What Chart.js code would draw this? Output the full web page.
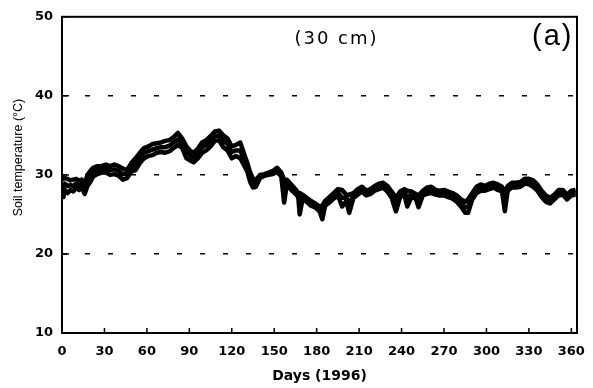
<!DOCTYPE html>
<html>
<head>
<meta charset="utf-8">
<script src="https://cdn.jsdelivr.net/npm/chart.js@4.4.0/dist/chart.umd.min.js"></script>
<style>
  html, body { margin: 0; padding: 0; background: #fff; }
  #wrap { width: 593px; height: 388px; }
</style>
</head>
<body>
<div id="wrap"><canvas id="chart" width="593" height="388"></canvas></div>
<script>
// day of year (1996) for each reading
const days = [0,1,2,4,6,8,10,12,14,16,18,20,22,25,28,31,34,37,40,43,46,49,52,55,58,61,64,67,70,73,76,79,82,85,88,91,93,96,99,102,105,108,111,114,117,120,123,126,129,131,133,135,137,140,143,146,149,152,155,157,159,162,165,167,168,170,173,176,179,182,184,186,189,192,195,198,201,203,206,209,212,215,218,221,224,227,230,233,236,239,242,244,247,250,252,255,258,261,264,267,270,273,276,279,282,285,287,290,293,296,299,302,305,308,311,313,315,318,321,324,327,330,333,336,339,342,345,348,351,354,357,360,363];

// soil temperature at 30 cm, three sensors (deg C)
const upper = [29.9,29.5,29.6,29.5,29.3,29.4,29.5,29.3,29.4,28.8,30.0,30.5,30.9,31.1,31.1,31.3,31.1,31.3,31.1,30.8,30.6,31.5,32.1,32.8,33.4,33.6,33.9,34.0,34.1,34.3,34.4,34.8,35.3,34.6,33.6,33.0,32.8,33.3,34.1,34.4,34.9,35.5,35.6,35.0,34.6,33.6,33.8,34.1,32.5,31.5,30.3,29.5,29.4,30.0,30.1,30.3,30.5,30.9,30.3,29.4,29.4,28.8,28.2,27.7,27.7,27.5,27.1,26.7,26.4,26.0,26.1,26.7,27.2,27.7,28.2,28.1,27.5,27.5,27.7,28.2,28.5,28.0,28.2,28.6,28.9,29.0,28.6,27.9,27.1,27.9,28.2,28.0,27.9,27.6,27.4,28.0,28.4,28.5,28.1,28.0,28.1,27.9,27.7,27.4,26.9,26.6,26.9,27.7,28.5,28.8,28.6,28.9,29.0,28.8,28.5,27.7,28.6,29.0,29.0,29.1,29.5,29.5,29.3,28.8,28.0,27.4,27.1,27.5,28.1,28.1,27.5,28.0,28.1];
const middle = [29.0,28.4,28.9,28.6,28.7,28.6,28.9,28.7,28.9,28.2,29.3,29.8,30.3,30.6,30.7,30.8,30.6,30.7,30.5,30.1,30.1,30.9,31.4,32.1,32.8,33.0,33.2,33.4,33.5,33.5,33.7,34.1,34.5,34.0,32.9,32.4,32.2,32.7,33.5,33.8,34.3,34.9,35.0,34.3,33.9,32.9,33.1,33.1,31.8,30.9,29.7,28.9,28.9,29.8,30.0,30.1,30.3,30.6,30.0,28.6,29.1,28.4,27.9,27.5,26.5,27.2,26.9,26.4,26.1,25.7,25.4,26.4,26.9,27.4,27.8,27.1,27.1,26.4,27.4,27.9,28.2,27.7,27.9,28.3,28.6,28.7,28.2,27.5,26.3,27.6,27.9,27.0,27.6,27.3,26.6,27.7,28.0,28.1,27.8,27.7,27.7,27.6,27.4,27.0,26.4,25.9,26.0,27.3,28.1,28.4,28.3,28.6,28.7,28.4,28.2,26.6,28.3,28.7,28.7,28.8,29.2,29.1,28.9,28.4,27.6,27.0,26.7,27.2,27.7,27.8,27.2,27.7,27.8];
const lower = [28.1,27.2,28.1,27.7,28.1,27.9,28.4,28.1,28.4,27.6,28.6,29.1,29.8,30.1,30.3,30.3,30.0,30.1,29.9,29.4,29.6,30.4,30.6,31.5,32.1,32.4,32.5,32.8,32.9,32.8,33.0,33.4,33.8,33.4,32.1,31.8,31.6,32.1,32.8,33.1,33.6,34.3,34.4,33.5,33.1,32.1,32.4,32.1,31.1,30.4,29.1,28.4,28.5,29.6,29.9,30.0,30.1,30.4,29.8,26.5,28.9,28.1,27.6,27.2,25.0,26.9,26.6,26.1,25.9,25.4,24.4,26.1,26.5,27.0,27.4,26.0,26.7,25.2,27.1,27.5,27.9,27.4,27.6,28.0,28.2,28.4,27.9,27.1,25.4,27.2,27.5,26.0,27.2,27.0,25.9,27.4,27.6,27.7,27.5,27.4,27.4,27.2,27.0,26.6,26.0,25.2,25.2,26.9,27.7,28.0,28.0,28.2,28.4,28.1,27.9,25.4,28.0,28.4,28.4,28.5,28.9,28.8,28.5,28.0,27.2,26.6,26.4,26.9,27.4,27.5,26.9,27.4,27.5];

const xTicks = [0,30,60,90,120,150,180,210,240,270,300,330,360];
const yTicks = [10,20,30,40,50];
const dashedAt = [20,30,40];

const toPoints = vals => days.map((d, i) => ({ x: d, y: vals[i] }));

// box round the plot, inward tick marks and the two labels inside the plot
const frame = {
  id: 'frame',
  afterDatasetsDraw(chart) {
    const { ctx, chartArea: a, scales: { x, y } } = chart;
    ctx.save();
    ctx.strokeStyle = '#000';
    ctx.lineWidth = 2;
    ctx.strokeRect(a.left, a.top, a.right - a.left, a.bottom - a.top);

    ctx.lineWidth = 1.5;
    ctx.beginPath();
    xTicks.forEach(v => {
      const px = x.getPixelForValue(v);
      ctx.moveTo(px, a.bottom);
      ctx.lineTo(px, a.bottom - 5);
    });
    yTicks.forEach(v => {
      const py = y.getPixelForValue(v);
      ctx.moveTo(a.left, py);
      ctx.lineTo(a.left + 7, py);
    });
    ctx.stroke();

    ctx.fillStyle = '#000';
    ctx.textBaseline = 'middle';
    ctx.textAlign = 'center';
    ctx.font = '18px "DejaVu Sans"';
    ctx.letterSpacing = '2px';
    ctx.fillText('(30 cm)', x.getPixelForValue(194), y.getPixelForValue(47.1));
    ctx.textAlign = 'right';
    ctx.font = '29px "Liberation Sans"';
    ctx.letterSpacing = '2px';
    ctx.fillText('(a)', x.getPixelForValue(361.5), y.getPixelForValue(47.4));
    ctx.restore();
  }
};

const lineStyle = { borderColor: '#000', borderWidth: 4.5, pointRadius: 0, tension: 0, borderJoinStyle: 'round', fill: false };

new Chart(document.getElementById('chart'), {
  type: 'line',
  data: {
    datasets: [
      { label: 'lower', data: toPoints(lower), ...lineStyle },
      { label: 'middle', data: toPoints(middle), ...lineStyle },
      { label: 'upper', data: toPoints(upper), ...lineStyle }
    ]
  },
  options: {
    responsive: false,
    animation: false,
    devicePixelRatio: 1,
    layout: { padding: { top: 14, right: 16, left: 0, bottom: 0 } },
    plugins: { legend: { display: false }, tooltip: { enabled: false } },
    scales: {
      x: {
        type: 'linear', min: 0, max: 364,
        afterBuildTicks: s => { s.ticks = xTicks.map(v => ({ value: v })); },
        afterFit: s => { s.height = 55; },
        grid: { display: false },
        border: { display: false },
        ticks: { color: '#000', font: { family: 'DejaVu Sans', size: 13, weight: 'bold' }, padding: 3, maxRotation: 0, autoSkip: false },
        title: { display: true, text: 'Days (1996)', color: '#000', font: { family: 'DejaVu Sans', size: 14, weight: 'bold' }, padding: { top: 0, bottom: 3 } }
      },
      y: {
        min: 10, max: 50,
        afterBuildTicks: s => { s.ticks = yTicks.map(v => ({ value: v })); },
        afterFit: s => { s.width = 62; },
        grid: {
          color: c => (c.tick && dashedAt.includes(c.tick.value)) ? '#000' : 'rgba(0,0,0,0)',
          lineWidth: 1.5,
          drawTicks: false
        },
        border: { display: false, dash: [5, 18] },
        ticks: { color: '#000', font: { family: 'DejaVu Sans', size: 13, weight: 'bold' }, padding: 9 },
        title: { display: true, text: '          Soil temperature (°C)', color: '#000', font: { family: 'Liberation Sans', size: 12.5 }, padding: { top: 11, bottom: 0 } }
      }
    }
  },
  plugins: [frame]
});
</script>
</body>
</html>
